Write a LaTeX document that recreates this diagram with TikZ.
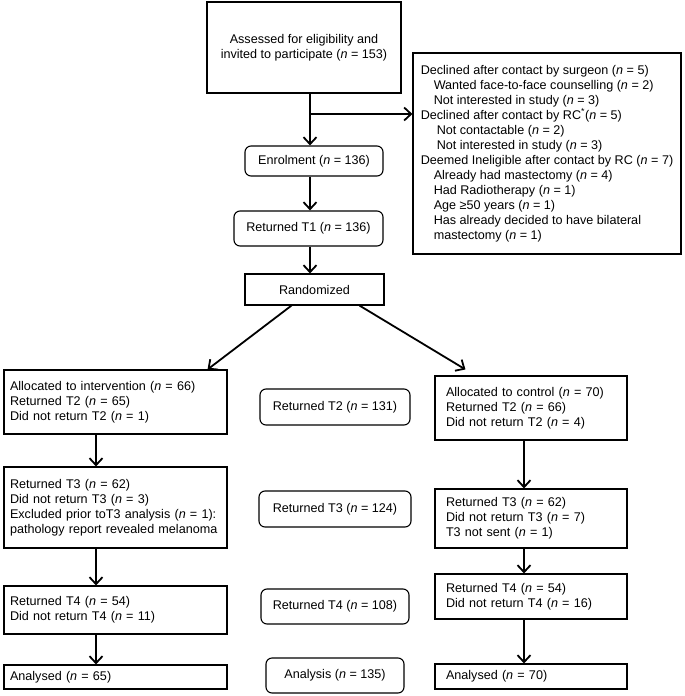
\documentclass[tikz,border=0pt]{standalone}
\usepackage{fontspec}
\setmainfont{Liberation Sans}
\usetikzlibrary{arrows.meta}

\newcommand{\nval}[1]{(\textit{n} = #1)}

\begin{document}
\begin{tikzpicture}[x=1pt,y=-1pt,
    box/.style={draw, line width=1.1pt, font=\fontsize{12.6}{15}\selectfont, inner ysep=0pt},
    lbox/.style={box, align=left, text width=211pt, inner xsep=6pt},
    rbox/.style={box, align=left, text width=170pt, inner xsep=11pt},
    mbox/.style={box, rounded corners=6pt, align=center},
    arr/.style={line width=1.8pt, -{Straight Barb[length=7pt,width=13pt]}}]
            \useasboundingbox (0,0) rectangle (685,696);

            % Define arrow columns
            \coordinate (mx) at (310,0);
            \coordinate (lx) at (96,0);
            \coordinate (rx) at (524,0);
            \coordinate (split) at (310,114);

            % Enrolment part
            \node[box, align=center, minimum width=194pt, minimum height=91pt] (assess) at (304,47.5)
                {Assessed for eligibility and\\invited to participate \nval{153}};
            \node[box, align=left, minimum width=268pt, minimum height=201pt] (excl) at (547,153.5)
                {Declined after contact by surgeon \nval{5}\\
                 \hspace*{13pt}Wanted face-to-face counselling \nval{2}\\
                 \hspace*{13pt}Not interested in study \nval{3}\\
                 Declined after contact by RC\textsuperscript{*}\nval{5}\\
                 \hspace*{16pt}Not contactable \nval{2}\\
                 \hspace*{16pt}Not interested in study \nval{3}\\
                 Deemed Ineligible after contact by RC \nval{7}\\
                 \hspace*{13pt}Already had mastectomy \nval{4}\\
                 \hspace*{13pt}Had Radiotherapy \nval{1}\\
                 \hspace*{13pt}Age ≥50 years \nval{1}\\
                 \hspace*{13pt}Has already decided to have bilateral\\
                 \hspace*{13pt}mastectomy \nval{1}};
            \node[mbox, minimum width=138pt, minimum height=30pt] (enrol) at (314,161) {Enrolment \nval{136}};
            \node[mbox, minimum width=149pt, minimum height=35pt] (t1) at (308.5,228.5) {Returned T1 \nval{136}};
            \node[box, minimum width=139pt, minimum height=31pt] (rand) at (314.5,289.5) {Randomized};

            % Follow-up rows
            \node[lbox, minimum height=64pt] (int2) at (115.5,402)
                {Allocated to intervention \nval{66}\\Returned T2 \nval{65}\\Did not return T2 \nval{1}};
            \node[mbox, minimum width=150pt, minimum height=36pt] (tot2) at (335,407) {Returned T2 \nval{131}};
            \node[rbox, minimum height=64pt] (ctl2) at (531,408)
                {Allocated to control \nval{70}\\Returned T2 \nval{66}\\Did not return T2 \nval{4}};

            \node[lbox, minimum height=81pt] (int3) at (115.5,507.5)
                {Returned T3 \nval{62}\\Did not return T3 \nval{3}\\Excluded prior toT3 analysis \nval{1}:\\pathology report revealed melanoma};
            \node[mbox, minimum width=152pt, minimum height=36pt] (tot3) at (335,509) {Returned T3 \nval{124}};
            \node[rbox, minimum height=59pt] (ctl3) at (531,518.5)
                {Returned T3 \nval{62}\\Did not return T3 \nval{7}\\T3 not sent \nval{1}};

            \node[lbox, minimum height=48pt] (int4) at (115.5,610)
                {Returned T4 \nval{54}\\Did not return T4 \nval{11}};
            \node[mbox, minimum width=148pt, minimum height=35pt] (tot4) at (335,606.5) {Returned T4 \nval{108}};
            \node[rbox, minimum height=45pt] (ctl4) at (531,596.5)
                {Returned T4 \nval{54}\\Did not return T4 \nval{16}};

            \node[lbox, minimum height=24pt] (inta) at (115.5,677) {Analysed \nval{65}};
            \node[mbox, minimum width=138pt, minimum height=35pt] (tota) at (335,675.5) {Analysis \nval{135}};
            \node[rbox, minimum height=25pt] (ctla) at (531,676.5) {Analysed \nval{70}};

            % Draw arrows
            \draw[arr] (assess.south -| mx) -- (enrol.north -| mx);
            \draw[arr] (split) -- (excl.west |- split);
            \draw[arr] (enrol.south -| mx) -- (t1.north -| mx);
            \draw[arr] (t1.south -| mx) -- (rand.north -| mx);
            \draw[arr] ([xshift=-23pt]rand.south) -- ([xshift=-20pt]int2.north east);
            \draw[arr] ([xshift=45pt]rand.south) -- ([xshift=31pt,yshift=6pt]ctl2.north west);
            \draw[arr] (int2.south -| lx) -- (int3.north -| lx);
            \draw[arr] (int3.south -| lx) -- (int4.north -| lx);
            \draw[arr] (int4.south -| lx) -- (inta.north -| lx);
            \draw[arr] (ctl2.south -| rx) -- (ctl3.north -| rx);
            \draw[arr] (ctl3.south -| rx) -- (ctl4.north -| rx);
            \draw[arr] (ctl4.south -| rx) -- (ctla.north -| rx);
        \end{tikzpicture}
\end{document}
